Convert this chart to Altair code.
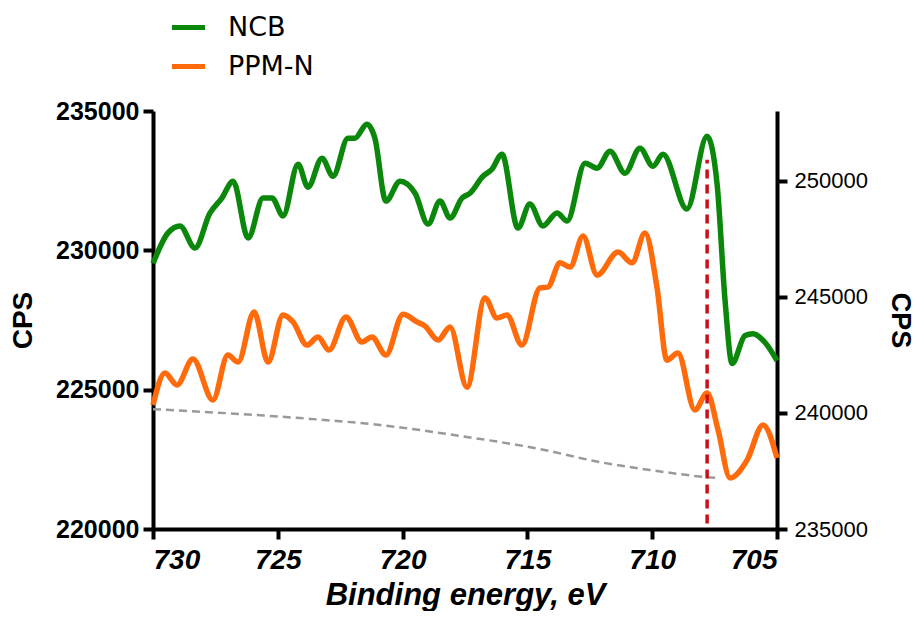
import altair as alt
import pandas as pd

# ---- data ----
ncb_energy = [730.0, 729.40, 728.92, 728.32, 727.72, 727.24, 726.79, 726.19, 725.59, 725.23,
              724.79, 724.19, 723.79, 723.23, 722.79, 722.19, 721.91, 721.43, 721.11, 720.67,
              720.10, 719.50, 718.98, 718.50, 718.10, 717.62, 717.30, 716.78, 716.42, 716.02,
              715.38, 714.90, 714.38, 713.81, 713.41, 712.69, 712.21, 711.69, 711.09, 710.49,
              709.97, 709.57, 708.61, 707.80, 707.40, 707.08, 706.80, 706.28, 705.96, 705.48,
              705.00]
ncb_cps = [246430, 247750, 248050, 247100, 248600, 249250, 249980, 247530, 249250, 249250,
           248480, 250710, 249720, 250970, 250190, 251830, 251830, 252430, 251830, 249120,
           249980, 249460, 248130, 249120, 248390, 249250, 249460, 250190, 250490, 251140,
           247960, 248990, 248050, 248610, 248260, 250750, 250540, 251270, 250320, 251400,
           250620, 251140, 248780, 251910, 249850, 244830, 242130, 243330, 243410, 243030,
           242250]

ppm_energy = [730.0, 729.52, 729.04, 728.40, 727.60, 727.00, 726.59, 725.95, 725.39, 724.79,
              724.39, 723.83, 723.39, 722.95, 722.27, 721.63, 721.23, 720.67, 719.98, 719.42,
              719.10, 718.58, 718.10, 717.42, 716.70, 716.22, 715.82, 715.22, 714.50, 714.18,
              713.69, 713.29, 712.77, 712.21, 711.37, 710.81, 710.29, 709.81, 709.41, 708.97,
              708.29, 707.80, 707.36, 706.88, 706.20, 705.56, 705.00]
ppm_cps = [224450, 225600, 225170, 226100, 224630, 226240, 225990, 227790, 225990, 227680,
           227430, 226600, 226890, 226420, 227610, 226710, 226890, 226240, 227710, 227430,
           227280, 226780, 227250, 225090, 228290, 227570, 227680, 226600, 228650, 228680,
           229550, 229400, 230510, 229110, 229940, 229550, 230620, 228680, 226060, 226320,
           224270, 224880, 223550, 221830, 222470, 223730, 222550]

base_energy = [730.0, 724.11, 720.9, 717.70, 714.5, 712.09, 710.1, 707.80, 707.36]
base_cps = [224300, 223980, 223730, 223340, 222870, 222400, 222120, 221860, 221830]

marker_energy = [707.8]
marker_low = [220200]
marker_high = [233250]

series_names = ["NCB", "PPM-N"]
series_colors = ["#0B870B", "#FF6A0A"]

left_ticks = [220000, 225000, 230000, 235000]
right_ticks = [235000, 240000, 245000, 250000]
x_ticks = [730, 725, 720, 715, 710, 705]

# ---- tables ----
df_ncb = pd.DataFrame({"E": ncb_energy, "CPS": ncb_cps, "series": "NCB"})
df_ppm = pd.DataFrame({"E": ppm_energy, "CPS": ppm_cps, "series": "PPM-N"})
df_base = pd.DataFrame({"E": base_energy, "CPS": base_cps})
df_mark = pd.DataFrame({"E": marker_energy, "CPS": marker_low, "CPS2": marker_high})

x_enc = alt.X(
    "E:Q",
    scale=alt.Scale(domain=[705, 730], reverse=True, nice=False, zero=False),
    axis=alt.Axis(
        values=x_ticks, format="d", title="Binding energy, eV",
        labelFont="Liberation Sans", labelFontSize=28, labelFontWeight="bold",
        labelFontStyle="italic", labelColor="black", labelPadding=7,
        titleFont="Liberation Sans", titleFontSize=31, titleFontWeight="bold",
        titleFontStyle="italic", titleColor="black", titlePadding=6,
        domainColor="black", domainWidth=4, tickColor="black", tickWidth=4,
        tickSize=10, grid=False,
    ),
)

left_axis = alt.Axis(
    values=left_ticks, format="d", title="CPS", orient="left",
    labelFont="Liberation Sans", labelFontSize=25, labelFontWeight="bold",
    labelColor="black", labelPadding=4,
    titleFont="Liberation Sans", titleFontSize=28, titleFontWeight="bold",
    titleColor="black", titlePadding=18,
    domainColor="black", domainWidth=4, tickColor="black", tickWidth=4,
    tickSize=10, grid=False,
)
left_scale = alt.Scale(domain=[220000, 235000], nice=False, zero=False)

right_axis = alt.Axis(
    values=right_ticks, format="d", title="CPS", orient="right",
    labelFont="Liberation Sans", labelFontSize=22, labelFontWeight="normal",
    labelColor="black", labelPadding=7,
    titleFont="Liberation Sans", titleFontSize=27, titleFontWeight="bold",
    titleColor="black", titlePadding=18,
    domainColor="black", domainWidth=4, tickColor="black", tickWidth=4,
    tickSize=10, grid=False,
)
right_scale = alt.Scale(domain=[235000, 253000], nice=False, zero=False)

color_enc = alt.Color(
    "series:N",
    scale=alt.Scale(domain=series_names, range=series_colors),
    legend=alt.Legend(
        title=None, orient="none", legendX=16, legendY=-103,
        symbolType="stroke", symbolStrokeWidth=5, symbolSize=1100,
        labelFont="DejaVu Sans", labelFontSize=27, labelColor="black",
        labelOffset=20, rowPadding=6, padding=0,
    ),
)

grey = alt.Chart(df_base).mark_line(
    color="#999999", strokeWidth=2.5, strokeDash=[8, 5], interpolate="monotone"
).encode(x=x_enc, y=alt.Y("CPS:Q", scale=left_scale, axis=left_axis))

orange = alt.Chart(df_ppm).mark_line(strokeWidth=5.5, interpolate="monotone").encode(
    x=x_enc, y=alt.Y("CPS:Q", scale=left_scale, axis=left_axis), color=color_enc
)

red = alt.Chart(df_mark).mark_rule(color="#C8101A", strokeWidth=3.5, strokeDash=[9, 6]).encode(
    x=x_enc, y=alt.Y("CPS:Q", scale=left_scale, axis=left_axis), y2="CPS2:Q"
)

green = alt.Chart(df_ncb).mark_line(strokeWidth=5.5, interpolate="monotone").encode(
    x=x_enc, y=alt.Y("CPS:Q", scale=right_scale, axis=right_axis), color=color_enc
)

left_layer = alt.layer(grey, orange, red)

chart = (
    alt.layer(left_layer, green)
    .resolve_scale(y="independent")
    .properties(
        width=624, height=418,
        autosize=alt.AutoSizeParams(type="none"),
        padding={"left": 145, "top": 103, "right": 139, "bottom": 82},
        background="white",
    )
    .configure_view(stroke=None)
)

chart.save("out.html", embed_options={"renderer": "svg", "actions": False})
